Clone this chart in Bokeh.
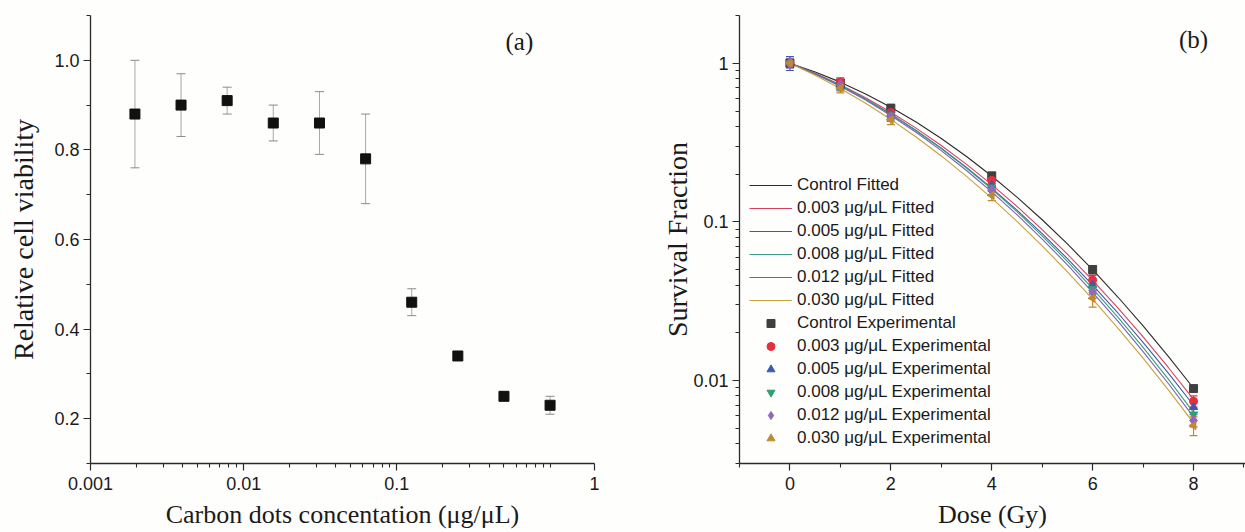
import numpy as np
from bokeh.plotting import figure
from bokeh.layouts import row
from bokeh.models import (ColumnDataSource, Whisker, TeeHead, FixedTicker,
                          PrintfTickFormatter, Range1d, Legend, LegendItem, Label)
from bokeh.embed import file_html
from bokeh.resources import INLINE

# ---------------- data : panel (a) ----------------
conc = [0.00195, 0.0039, 0.0078, 0.0156, 0.03125, 0.0625, 0.125, 0.25, 0.5, 1.0]
viability = [0.88, 0.90, 0.91, 0.86, 0.86, 0.78, 0.46, 0.34, 0.25, 0.23]
viability_err = [0.12, 0.07, 0.03, 0.04, 0.07, 0.10, 0.03, 0.01, 0.01, 0.02]
a_x_major = [0.001, 0.01, 0.1, 1.949]
a_x_labels = ["0.001", "0.01", "0.1", "1"]
a_x_minor = [0.002, 0.003, 0.004, 0.005, 0.006, 0.007, 0.008, 0.009,
             0.02, 0.03, 0.04, 0.05, 0.06, 0.07, 0.08, 0.09,
             0.2, 0.3, 0.4, 0.5, 0.6, 0.7, 0.8, 0.9, 1.0]
a_y_major = [0.2, 0.4, 0.6, 0.8, 1.0]
a_y_minor = [0.1, 0.3, 0.5, 0.7, 0.9, 1.1]

# ---------------- data : panel (b) ----------------
dose = [0, 1, 2, 4, 6, 8]
fit_dose = [0, 0.5, 1, 1.5, 2, 2.5, 3, 3.5, 4, 4.5, 5, 5.5, 6, 6.5, 7, 7.5, 8]
series_names = ["Control", "0.003 μg/μL", "0.005 μg/μL", "0.008 μg/μL",
                "0.012 μg/μL", "0.030 μg/μL"]

exp_control = [1.0, 0.75, 0.52, 0.195, 0.050, 0.0089]
exp_003 = [1.0, 0.76, 0.49, 0.183, 0.043, 0.0074]
exp_005 = [1.0, 0.72, 0.48, 0.170, 0.040, 0.0068]
exp_008 = [1.0, 0.71, 0.47, 0.165, 0.038, 0.0061]
exp_012 = [1.0, 0.73, 0.46, 0.158, 0.036, 0.0056]
exp_030 = [1.0, 0.70, 0.44, 0.147, 0.033, 0.0052]

err_control = [0.06, 0.04, 0.03, 0.010, 0.003, 0.0004]
err_003 = [0.05, 0.05, 0.03, 0.010, 0.003, 0.0006]
err_005 = [0.10, 0.04, 0.03, 0.010, 0.003, 0.0005]
err_008 = [0.06, 0.04, 0.03, 0.010, 0.003, 0.0005]
err_012 = [0.07, 0.05, 0.03, 0.010, 0.003, 0.0005]
err_030 = [0.06, 0.05, 0.03, 0.011, 0.004, 0.0007]

fit_control = [1.0, 0.8819, 0.7604, 0.6410, 0.5283, 0.4258, 0.3354, 0.2584, 0.1946,
               0.1433, 0.1032, 0.07261, 0.04996, 0.03362, 0.02212, 0.01422, 0.008943]
fit_003 = [1.0, 0.8642, 0.7312, 0.6056, 0.4911, 0.3900, 0.3031, 0.2306, 0.1718,
           0.1253, 0.0895, 0.06256, 0.04283, 0.02870, 0.01883, 0.01209, 0.007603]
fit_005 = [1.0, 0.8580, 0.7210, 0.5932, 0.4780, 0.3772, 0.2914, 0.2205, 0.1634,
           0.1186, 0.08424, 0.05862, 0.03996, 0.02666, 0.01742, 0.01114, 0.006985]
fit_008 = [1.0, 0.8599, 0.7233, 0.5950, 0.4788, 0.3769, 0.2902, 0.2186, 0.1610,
           0.1160, 0.08175, 0.05636, 0.0380, 0.02507, 0.01617, 0.01020, 0.006299]
fit_012 = [1.0, 0.8551, 0.7153, 0.5855, 0.4688, 0.3672, 0.2815, 0.2110, 0.1548,
           0.1111, 0.0780, 0.05358, 0.0360, 0.02367, 0.01523, 0.009583, 0.005899]
fit_030 = [1.0, 0.8410, 0.6930, 0.5594, 0.4426, 0.3430, 0.2605, 0.1938, 0.1413,
           0.1009, 0.07065, 0.04845, 0.03256, 0.02143, 0.01383, 0.008739, 0.005410]

b_y_major = [0.01, 0.1, 1]
b_y_labels = ["0.01", "0.1", "1"]
b_y_minor = [0.003, 0.004, 0.005, 0.006, 0.007, 0.008, 0.009,
             0.02, 0.03, 0.04, 0.05, 0.06, 0.07, 0.08, 0.09,
             0.2, 0.3, 0.4, 0.5, 0.6, 0.7, 0.8, 0.9, 2.0]
b_x_major = [0, 2, 4, 6, 8]
b_x_minor = [-1, 1, 3, 5, 7, 9]

# ---------------- styles ----------------
SERIF = "Liberation Serif"
SANS = "Liberation Sans"
BG = "#FEFEFC"
AX = "#2a2a2a"

line_colors = ["#2b2b2b", "#D8405E", "#4458A8", "#3A9C80", "#7264B2", "#C9A03E"]
marker_colors = ["#404040", "#E5303F", "#3A5AAE", "#2FA070", "#9466BC", "#C08A2E"]
markers = ["square", "circle", "triangle", "inverted_triangle", "diamond", "triangle"]
marker_angles = [0.0, 0.0, 0.0, 0.0, 0.0, 90.0]
marker_sizes = [8, 8, 8, 8, 11, 8]


def style_axes(p):
    for ax in p.axis:
        ax.axis_line_color = AX
        ax.axis_line_width = 1.3
        ax.major_tick_out = 7
        ax.major_tick_in = 0
        ax.minor_tick_out = 4
        ax.minor_tick_in = 0
        ax.major_tick_line_color = AX
        ax.minor_tick_line_color = AX
        ax.major_tick_line_width = 1.2
        ax.minor_tick_line_width = 1.1
        ax.major_label_text_font = SANS
        ax.major_label_text_font_size = "18px"
        ax.major_label_text_color = "#1a1a1a"
        ax.major_label_standoff = 4
        ax.axis_label_text_font = SERIF
        ax.axis_label_text_font_style = "normal"
        ax.axis_label_text_color = "#1a1a1a"
    for ax in p.xaxis:
        ax.major_label_standoff = 6
    p.grid.visible = False
    p.outline_line_color = None
    p.background_fill_color = BG
    p.border_fill_color = BG


# ---------------- panel (a) ----------------
p1 = figure(width=620, height=532, x_axis_type="log",
            x_range=Range1d(0.001, 1.95), y_range=Range1d(0.1, 1.1),
            output_backend="svg", toolbar_location=None,
            min_border_left=90, min_border_right=26,
            min_border_top=15, min_border_bottom=69)
style_axes(p1)
p1.xaxis.ticker = FixedTicker(ticks=a_x_major, minor_ticks=a_x_minor)
p1.xaxis.major_label_overrides = dict(zip(a_x_major, a_x_labels))
p1.yaxis.ticker = FixedTicker(ticks=a_y_major, minor_ticks=a_y_minor)
p1.yaxis.formatter = PrintfTickFormatter(format="%.1f")
p1.xaxis.axis_label = "Carbon dots concentation (μg/μL)"
p1.xaxis.axis_label_text_font_size = "26px"
p1.xaxis.axis_label_standoff = 7
p1.yaxis.axis_label = "Relative cell viability"
p1.yaxis.axis_label_text_font_size = "28px"
p1.yaxis.axis_label_standoff = 12

src_a = ColumnDataSource(dict(
    x=conc, y=viability,
    upper=[v + e for v, e in zip(viability, viability_err)],
    lower=[v - e for v, e in zip(viability, viability_err)]))
p1.add_layout(Whisker(source=src_a, base="x", upper="upper", lower="lower",
                      dimension="height", line_color="#a8a8a8", line_width=1,
                      upper_head=TeeHead(size=9, line_color="#8a8a8a", line_width=1),
                      lower_head=TeeHead(size=9, line_color="#8a8a8a", line_width=1)))
p1.scatter("x", "y", source=src_a, marker="square", size=10,
           fill_color="#111111", line_color="#111111")
p1.add_layout(Label(x=0.63, y=1.042, text="(a)", text_font=SERIF,
                    text_font_size="25px", text_align="center",
                    text_baseline="middle", text_color="#1a1a1a"))

# ---------------- panel (b) ----------------
p2 = figure(width=625, height=532, y_axis_type="log",
            x_range=Range1d(-1, 9.03), y_range=Range1d(0.003, 2.0),
            output_backend="svg", toolbar_location=None,
            min_border_left=119, min_border_right=0,
            min_border_top=15, min_border_bottom=69)
style_axes(p2)
p2.xaxis.ticker = FixedTicker(ticks=b_x_major, minor_ticks=b_x_minor)
p2.yaxis.ticker = FixedTicker(ticks=b_y_major, minor_ticks=b_y_minor)
p2.yaxis.major_label_overrides = dict(zip(b_y_major, b_y_labels))
p2.xaxis.axis_label = "Dose (Gy)"
p2.xaxis.axis_label_text_font_size = "26px"
p2.xaxis.axis_label_standoff = 7
p2.yaxis.axis_label = "Survival Fraction"
p2.yaxis.axis_label_text_font_size = "28px"
p2.yaxis.axis_label_standoff = -3

fits = [fit_control, fit_003, fit_005, fit_008, fit_012, fit_030]
exps = [exp_control, exp_003, exp_005, exp_008, exp_012, exp_030]
errs = [err_control, err_003, err_005, err_008, err_012, err_030]

line_items = []
marker_items = []
for i, name in enumerate(series_names):
    lr = p2.line(fit_dose, fits[i], line_color=line_colors[i], line_width=1.1)
    line_items.append(LegendItem(label=name + " Fitted", renderers=[lr]))
for i, name in enumerate(series_names):
    src = ColumnDataSource(dict(
        x=dose, y=exps[i],
        ang=[marker_angles[i]] * len(dose),
        upper=[v + e for v, e in zip(exps[i], errs[i])],
        lower=[v - e for v, e in zip(exps[i], errs[i])]))
    p2.add_layout(Whisker(source=src, base="x", upper="upper", lower="lower",
                          dimension="height", line_color=marker_colors[i], line_width=1.2,
                          upper_head=TeeHead(size=8, line_color=marker_colors[i], line_width=1.2),
                          lower_head=TeeHead(size=8, line_color=marker_colors[i], line_width=1.2)))
    sr = p2.scatter("x", "y", source=src, marker=markers[i], size=marker_sizes[i],
                    angle="ang", angle_units="deg", fill_color=marker_colors[i],
                    line_color=marker_colors[i])
    marker_items.append(LegendItem(label=name + " Experimental", renderers=[sr]))

legend = Legend(items=line_items + marker_items, location=(10, 15),
                glyph_width=43, glyph_height=20, label_height=20, spacing=3,
                padding=0, margin=0, label_standoff=5,
                border_line_alpha=0, background_fill_alpha=0,
                label_text_font=SANS, label_text_font_size="17px",
                label_text_color="#1a1a1a")
p2.add_layout(legend)
p2.add_layout(Label(x=8.0, y=1.415, text="(b)", text_font=SERIF,
                    text_font_size="25px", text_align="center",
                    text_baseline="middle", text_color="#1a1a1a"))

layout = row(p1, p2)
open("out.html", "w").write(file_html(layout, INLINE))
